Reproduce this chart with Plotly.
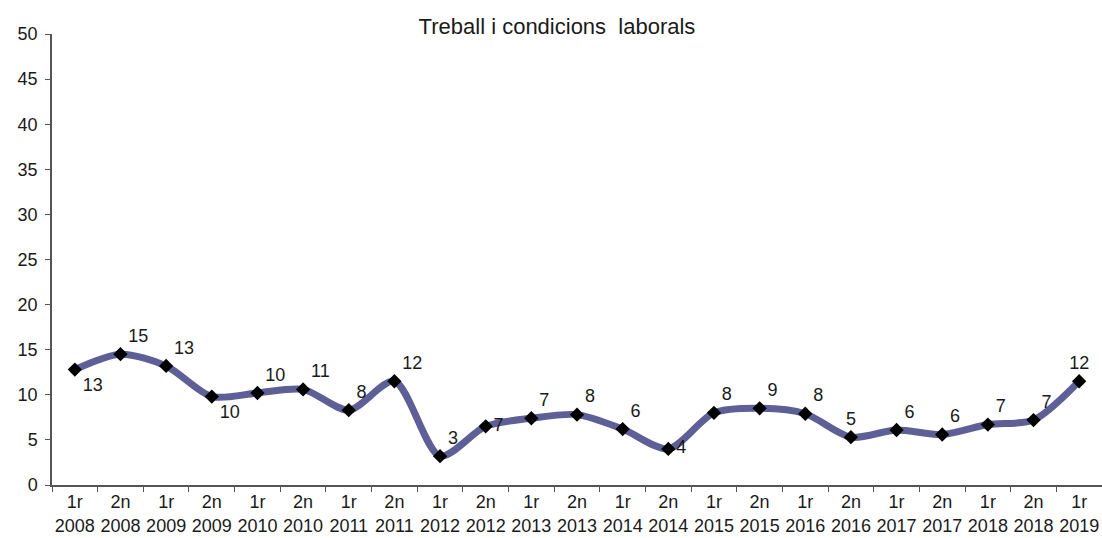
import plotly.graph_objects as go

periods = ["1r", "2n"] * 11 + ["1r"]
years = [2008, 2008, 2009, 2009, 2010, 2010, 2011, 2011, 2012, 2012, 2013, 2013,
         2014, 2014, 2015, 2015, 2016, 2016, 2017, 2017, 2018, 2018, 2019]
categories = [f"{p}<br>{y}" for p, y in zip(periods, years)]

values = [12.8, 14.5, 13.2, 9.8, 10.2, 10.6, 8.3, 11.5, 3.2, 6.5, 7.4, 7.8,
          6.2, 4.0, 8.0, 8.5, 7.9, 5.3, 6.1, 5.6, 6.7, 7.2, 11.5]
labels = [str(int(v + 0.5)) for v in values]

label_pos = ["bottom right", "top right", "top right", "bottom right", "top right",
             "top right", "top right", "top right", "top right", "middle right",
             "top right", "top right", "top right", "middle right", "top right",
             "top right", "top right", "top center", "top right", "top right",
             "top right", "top right", "top center"]

FONT = "Liberation Sans, Arial, sans-serif"

fig = go.Figure()
fig.add_trace(go.Scatter(
    x=categories, y=values, mode="lines+markers+text",
    text=labels, textposition=label_pos,
    textfont=dict(size=18, color="#1a1a1a", family=FONT),
    line=dict(color="#5F5F98", width=7, shape="spline", smoothing=0.8),
    marker=dict(symbol="diamond", size=11, color="black"),
    cliponaxis=False, hoverinfo="x+y",
))

fig.update_layout(
    width=1102, height=538,
    paper_bgcolor="white", plot_bgcolor="white",
    showlegend=False,
    margin=dict(l=52, r=0, t=34, b=53),
    font=dict(family=FONT, size=18, color="#1a1a1a"),
    title=dict(text="Treball i condicions  laborals", x=557 / 1102, xanchor="center",
               xref="container", y=1 - 26 / 538, yref="container", yanchor="middle",
               font=dict(size=22, color="#1a1a1a")),
    xaxis=dict(type="category", range=[-0.5, len(categories) - 0.5],
               showline=True, linecolor="#555", linewidth=1.5,
               ticks="outside", tickson="boundaries", ticklen=5, tickcolor="#555",
               showgrid=False, tickfont=dict(size=18), tickangle=0, automargin=False),
    yaxis=dict(range=[0, 50], dtick=5, showline=True, linecolor="#555", linewidth=1.5,
               ticks="outside", ticklen=5, tickcolor="#555", showgrid=False,
               zeroline=False, tickfont=dict(size=18), automargin=False,
               ticklabelstandoff=4),
)

fig.write_html("out.html", config={"displayModeBar": False},
               post_script="document.body.style.margin='0';")
